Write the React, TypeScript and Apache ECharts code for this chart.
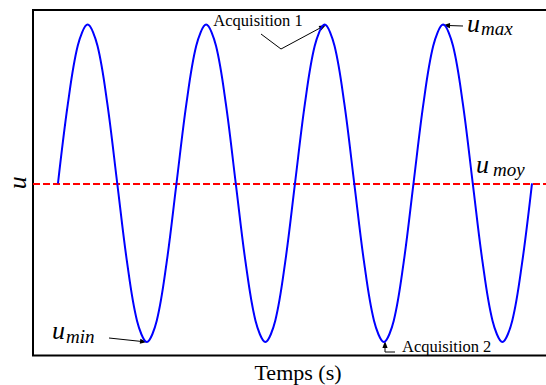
import React, { useEffect, useRef } from "react";
import * as echarts from "echarts";

// Time samples (s) and signal values (period 1.2 s, mean 0, amplitude 1)
const time = [
  0, 0.1, 0.2, 0.3, 0.4, 0.5, 0.6, 0.7, 0.8, 0.9, 1.0, 1.1,
  1.2, 1.3, 1.4, 1.5, 1.6, 1.7, 1.8, 1.9, 2.0, 2.1, 2.2, 2.3,
  2.4, 2.5, 2.6, 2.7, 2.8, 2.9, 3.0, 3.1, 3.2, 3.3, 3.4, 3.5,
  3.6, 3.7, 3.8, 3.9, 4.0, 4.1, 4.2, 4.3, 4.4, 4.5, 4.6, 4.7, 4.8,
];
const signal = [
  0, 0.5, 0.866, 1, 0.866, 0.5, 0, -0.5, -0.866, -1, -0.866, -0.5,
  0, 0.5, 0.866, 1, 0.866, 0.5, 0, -0.5, -0.866, -1, -0.866, -0.5,
  0, 0.5, 0.866, 1, 0.866, 0.5, 0, -0.5, -0.866, -1, -0.866, -0.5,
  0, 0.5, 0.866, 1, 0.866, 0.5, 0, -0.5, -0.866, -1, -0.866, -0.5,
  0,
];
const uMoy = 0;
const xRange = [-0.253, 4.972];
const yRange = [-1.085, 1.0915];

const SERIF = "Liberation Serif";

function arrowHead(tx: number, ty: number, fx: number, fy: number) {
  const dx = tx - fx;
  const dy = ty - fy;
  const len = Math.hypot(dx, dy) || 1;
  const ux = dx / len;
  const uy = dy / len;
  const L = 7;
  const W = 2.6;
  const bx = tx - ux * L;
  const by = ty - uy * L;
  return {
    type: "polygon",
    silent: true,
    shape: {
      points: [
        [tx, ty],
        [bx - uy * W, by + ux * W],
        [bx + uy * W, by - ux * W],
      ],
    },
    style: { fill: "#000" },
  };
}

function line(points: number[][]) {
  return {
    type: "polyline",
    silent: true,
    shape: { points },
    style: { stroke: "#000", lineWidth: 1, fill: null },
  };
}

function txt(x: number, y: number, text: string, size: number, italic: boolean, align = "left") {
  return {
    type: "text",
    x,
    y,
    silent: true,
    style: {
      text,
      fill: "#000",
      fontFamily: SERIF,
      fontStyle: italic ? "italic" : "normal",
      fontSize: size,
      align,
      verticalAlign: "middle",
    },
  };
}

export default function App() {
  const ref = useRef<HTMLDivElement>(null);

  useEffect(() => {
    if (!ref.current) return;
    const chart = echarts.init(ref.current, null, { renderer: "svg" });
    const data = time.map((t, i) => [t, signal[i]]);

    chart.setOption({
      animation: false,
      backgroundColor: "#fff",
      grid: {
        show: true,
        left: 33,
        top: 10,
        right: -3,
        bottom: 29.5,
        containLabel: false,
        outerBoundsMode: "none",
        borderColor: "#000",
        borderWidth: 2,
        backgroundColor: "transparent",
      },
      xAxis: {
        type: "value",
        min: xRange[0],
        max: xRange[1],
        name: "Temps (s)",
        nameLocation: "middle",
        nameGap: 6,
        nameTextStyle: {
          fontFamily: SERIF,
          fontSize: 22,
          color: "#000",
          verticalAlign: "top",
          padding: [0, 0, 0, 14],
        },
        axisLine: { show: false },
        axisTick: { show: false },
        axisLabel: { show: false },
        splitLine: { show: false },
      },
      yAxis: {
        type: "value",
        min: yRange[0],
        max: yRange[1],
        name: "u",
        nameLocation: "middle",
        nameGap: 3,
        nameRotate: 90,
        nameTextStyle: {
          fontFamily: SERIF,
          fontStyle: "italic",
          fontSize: 26,
          color: "#000",
        },
        axisLine: { show: false },
        axisTick: { show: false },
        axisLabel: { show: false },
        splitLine: { show: false },
      },
      series: [
        {
          type: "line",
          data,
          smooth: 0.34,
          showSymbol: false,
          symbol: "none",
          lineStyle: { color: "#0000ff", width: 2 },
          z: 3,
          markLine: {
            silent: true,
            symbol: ["none", "none"],
            label: { show: false },
            lineStyle: { color: "#ff0000", width: 2, type: [7, 3] },
            data: [{ yAxis: uMoy }],
            z: 2,
          },
        },
      ],
      graphic: [
        // Acquisition 1
        txt(258, 20, "Acquisition 1", 16.5, false, "center"),
        line([[261, 34], [281, 49], [321, 27.5]]),
        arrowHead(326, 25, 281, 49),
        // u_max
        line([[463, 26], [448, 25.5]]),
        arrowHead(443, 25.3, 463, 26),
        txt(467, 23, "u", 26, true),
        txt(481, 28, "max", 19, true),
        // u_moy
        txt(476, 164, "u", 26, true),
        txt(493, 169, "moy", 19, true),
        // u_min
        txt(52, 330, "u", 26, true),
        txt(66, 336, "min", 19, true),
        line([[109, 338], [142, 341.5]]),
        arrowHead(147, 342, 109, 338),
        // Acquisition 2
        line([[395, 352], [385, 352], [385, 347]]),
        arrowHead(385, 341, 385, 352),
        txt(402, 346, "Acquisition 2", 16.5, false),
      ],
    });

    return () => chart.dispose();
  }, []);

  return (
    <div
      ref={ref}
      style={{ position: "fixed", left: 0, top: 0, width: 546, height: 385, background: "#fff" }}
    />
  );
}
